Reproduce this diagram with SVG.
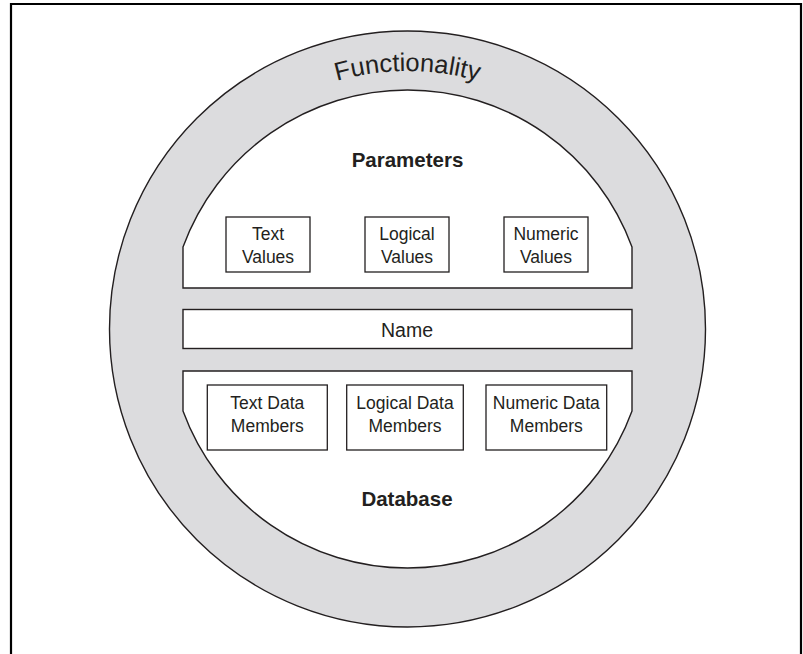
<svg xmlns="http://www.w3.org/2000/svg" width="803" height="654" viewBox="0 0 803 654">
<style>
.ln{stroke:#231f20;stroke-width:1.4;}
.band{fill:#ffffff;stroke:#231f20;stroke-width:1.4;}
.box{fill:#ffffff;stroke:#231f20;stroke-width:1.3;}
.t{font-family:"Liberation Sans",Arial,Helvetica,sans-serif;fill:#231f20;text-anchor:middle;}
.s{font-size:17.5px;}
.b{font-size:20.5px;font-weight:bold;}
</style>
<defs>
<path id="arcF" d="M 149.5 329 A 258 258 0 0 1 665.5 329"/>
</defs>
<rect width="803" height="654" fill="#ffffff"/>
<path d="M11 654 V4 H801 V654" fill="none" stroke="#000000" stroke-width="2.2"/>
<g id="functionality">
<circle cx="407.5" cy="329" r="298" fill="#dcdcde" class="ln"/>
<text class="t" style="font-size:25.5px"><textPath href="#arcF" startOffset="50%">Functionality</textPath></text>
</g>
<g id="parameters">
<path class="band" d="M183 288 V247 A239 239 0 0 1 632 247 V288 Z"/>
<text class="t b" x="407.5" y="167.3">Parameters</text>
</g>
<g id="text-values">
<rect class="box" x="226" y="217" width="84" height="55"/>
<text class="t s" x="268" y="240">Text</text>
<text class="t s" x="268" y="263">Values</text>
</g>
<g id="logical-values">
<rect class="box" x="365" y="217" width="84" height="55"/>
<text class="t s" x="407" y="240">Logical</text>
<text class="t s" x="407" y="263">Values</text>
</g>
<g id="numeric-values">
<rect class="box" x="504" y="217" width="84" height="55"/>
<text class="t s" x="546" y="240">Numeric</text>
<text class="t s" x="546" y="263">Values</text>
</g>
<g id="name">
<rect class="band" x="183" y="309.5" width="449" height="39"/>
<text class="t" style="font-size:19.5px" x="407" y="336.5">Name</text>
</g>
<g id="database">
<path class="band" d="M183 371 V411 A239 239 0 0 0 632 411 V371 Z"/>
<text class="t b" x="407" y="506">Database</text>
</g>
<g id="text-data-members">
<rect class="box" x="207.3" y="385" width="120" height="65"/>
<text class="t s" x="267.3" y="408.5">Text Data</text>
<text class="t s" x="267.3" y="431.5">Members</text>
</g>
<g id="logical-data-members">
<rect class="box" x="346.7" y="385" width="116.6" height="65"/>
<text class="t s" x="405" y="408.5">Logical Data</text>
<text class="t s" x="405" y="431.5">Members</text>
</g>
<g id="numeric-data-members">
<rect class="box" x="486" y="385" width="120.7" height="65"/>
<text class="t s" x="546.3" y="408.5">Numeric Data</text>
<text class="t s" x="546.3" y="431.5">Members</text>
</g>
</svg>
